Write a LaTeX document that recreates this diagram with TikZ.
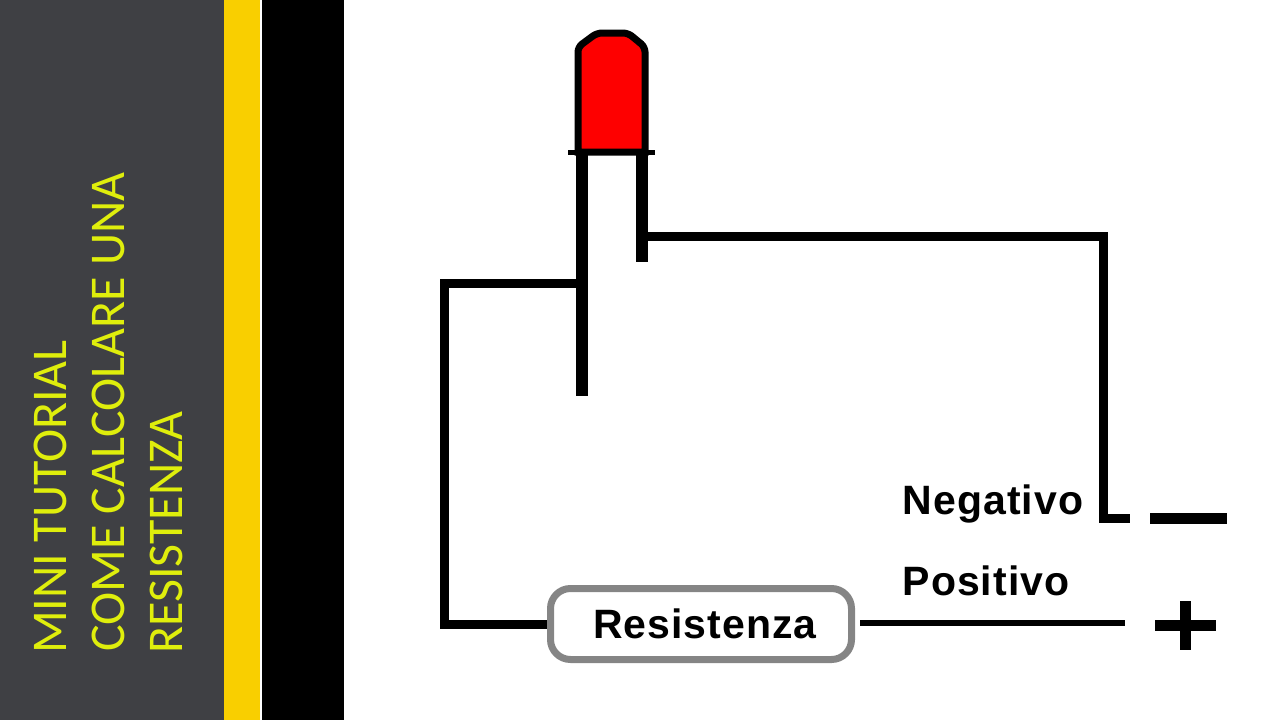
\documentclass[tikz,border=0pt]{standalone}
\usepackage{fontspec}
\setmainfont{Carlito}
\newfontfamily\labelfont[LetterSpace=2.5]{Liberation Sans}
\definecolor{paneldark}{HTML}{3F4044}
\definecolor{panelgold}{HTML}{F9CF00}
\definecolor{titlelime}{HTML}{DFEE0C}
\definecolor{ledred}{HTML}{FE0000}
\definecolor{boxgrey}{HTML}{858585}

\begin{document}
\begin{tikzpicture}
        [x=1pt,y=-1pt,
          titledecorate/.style={rotate=90,anchor=base west,inner sep=0pt,text=titlelime,font=\fontsize{50}{50}\selectfont},%
          labeldecorate/.style={inner sep=0pt,font=\labelfont\bfseries\fontsize{41}{41}\selectfont},%
          leddecorate/.style={draw,line width=7pt,fill=ledred},%
          legdecorate/.style={-,line width=12pt},%
          linedecorate/.style={-,line width=9pt},%
          signdecorate/.style={-,line width=11pt}]
        \useasboundingbox (0,0) rectangle (1280,720);
        %% panels at the left
        \fill[paneldark] (0,0) rectangle (224,720);
        \fill[panelgold] (224,0) rectangle (260,720);
        \fill[black] (262,0) rectangle (344,720);
        %% title
        \node (line1) at (66,654) [titledecorate] {MINI TUTORIAL};
        \node (line2) at (124,652) [titledecorate] {COME CALCOLARE UNA};
        \node (line3) at (182,654) [titledecorate] {RESISTENZA};
        %% points of the circuit
        \foreach \nodename/\x/\y in {legatop/582/152, legabot/582/396, legbtop/642/152,
          legbbot/642/262, wirea/648/236, cornera/1103/236, cornerb/1103/518, wireaend/1130/518,
          wireb/576/283, cornerc/444/283, cornerd/444/624, wirec/860/623, wirecend/1125/623,
          minusl/1150/518, minusr/1227/518, plusl/1155/625, plusr/1216/625, plust/1185/601,
          plusb/1185/650, barl/568/152, barr/655/152}
        {
          \coordinate (\nodename) at (\x,\y);
        }
        %% led
        \draw[leddecorate] (578,152) [rounded corners=5pt] -- (578,47) -- (597,33) -- (628,33) -- (645,47)
          [sharp corners] -- (645,152) -- cycle;
        \draw[line width=5pt] (barl) -- (barr);
        \path
        \foreach \startnode/\endnode in {legatop/legabot, legbtop/legbbot}
        {
          (\startnode) edge[legdecorate] (\endnode)
        };
        %% resistor and labels
        \node (resistenza) at (701,624) [labeldecorate,draw=boxgrey,line width=7pt,rounded corners=20pt,
          minimum width=301pt,minimum height=71pt] {\hspace{8pt}Resistenza};
        \node (negativo) at (993,504) [labeldecorate] {Negativo};
        \node (positivo) at (986,581) [labeldecorate] {Positivo};
        %% wires
        \draw[linedecorate] (wirea) -- (cornera) -- (cornerb) -- (wireaend);
        \draw[linedecorate] (wireb) -- (cornerc) -- (cornerd) -- (resistenza.west);
        \draw[linedecorate,line width=6pt] (wirec) -- (wirecend);
        %% signs
        \draw[signdecorate] (minusl) -- (minusr);
        \draw[signdecorate] (plusl) -- (plusr);
        \draw[signdecorate] (plust) -- (plusb);
        \end{tikzpicture}
\end{document}
